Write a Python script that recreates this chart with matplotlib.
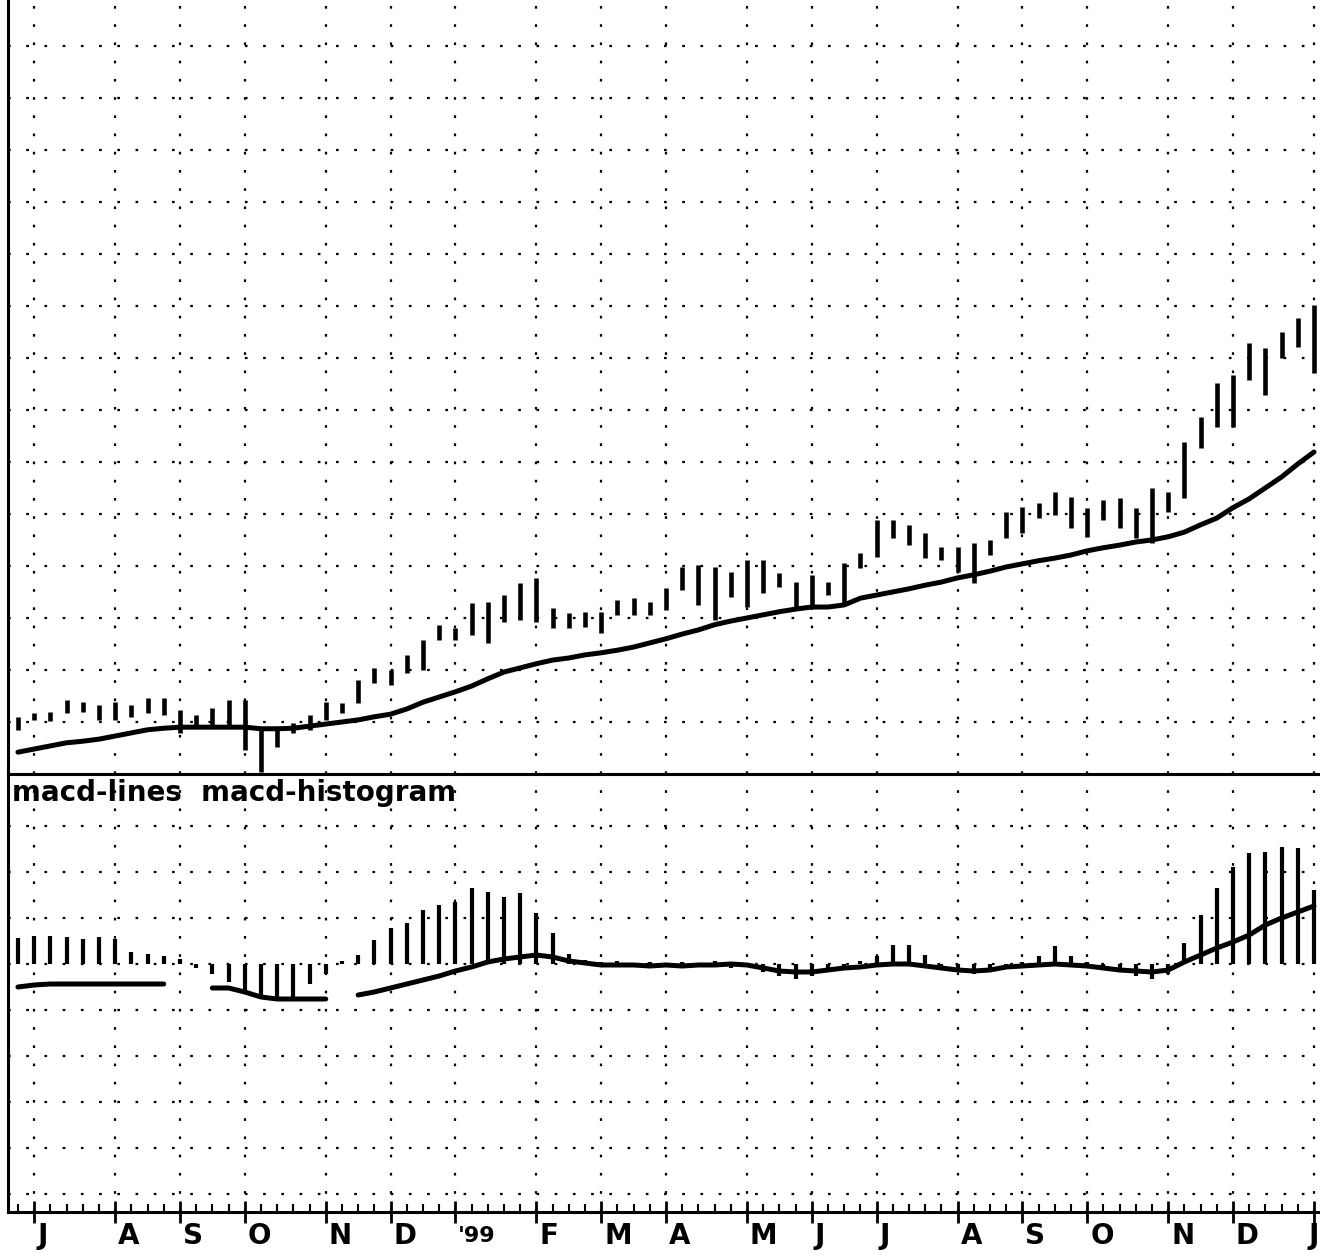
import matplotlib
matplotlib.use('Agg')
import matplotlib.pyplot as plt
import matplotlib.transforms as mtransforms
import numpy as np
import pandas as pd

# weekly bars, late June 1998 to early January 2000
weeks = pd.date_range('1998-06-26', periods=81, freq='7D')

price_high = [11.0, 11.7, 11.9, 14.2, 13.8, 13.3, 13.8, 13.3, 14.6, 14.6,
              12.3, 11.3, 12.7, 14.2, 14.2, 9.0, 9.0, 9.8, 11.3, 13.8,
              13.7, 18.1, 20.4, 20.0, 22.9, 25.8, 28.7, 28.1, 32.9, 33.1,
              34.4, 36.7, 37.7, 31.9, 31.0, 31.2, 31.2, 33.5, 33.8, 33.1,
              35.8, 39.8, 40.2, 39.8, 38.8, 41.2, 41.2, 38.7, 36.9, 38.3,
              36.9, 40.6, 42.5, 48.8, 48.8, 47.9, 46.3, 43.7, 43.7, 44.4,
              45.0, 50.4, 51.3, 52.1, 54.2, 53.3, 51.2, 52.7, 53.1, 51.2,
              55.0, 54.2, 63.8, 68.7, 75.2, 76.7, 82.9, 81.9, 85.0, 87.7,
              90.2]
price_low = [8.5, 10.4, 10.2, 11.7, 11.9, 10.4, 10.4, 11.0, 11.7, 11.3,
             7.9, 8.8, 9.0, 9.0, 4.6, 0.4, 5.2, 7.9, 8.5, 10.4,
             11.7, 13.7, 17.5, 17.1, 19.4, 20.0, 25.8, 25.8, 26.7, 25.2,
             29.2, 29.6, 29.2, 28.1, 28.1, 28.3, 27.1, 30.6, 30.6, 30.6,
             31.5, 35.4, 32.5, 29.6, 34.0, 32.1, 34.8, 36.0, 31.9, 32.5,
             34.4, 32.5, 39.6, 41.7, 45.4, 44.0, 41.5, 41.2, 38.8, 36.7,
             42.1, 45.4, 46.3, 49.2, 49.8, 47.3, 45.6, 48.8, 47.3, 45.4,
             44.4, 50.4, 53.1, 62.7, 66.7, 66.7, 75.8, 72.9, 80.0, 82.1,
             77.1]
moving_avg = [4.2, 4.8, 5.4, 6.0, 6.3, 6.7, 7.3, 7.9, 8.5, 8.8,
              9.0, 9.0, 9.0, 9.0, 9.0, 8.7, 8.7, 8.8, 9.2, 9.6,
              10.0, 10.4, 11.0, 11.5, 12.5, 13.8, 14.8, 15.8, 16.9, 18.3,
              19.6, 20.4, 21.2, 21.9, 22.3, 22.9, 23.3, 23.8, 24.4, 25.2,
              26.0, 26.9, 27.7, 28.7, 29.4, 30.0, 30.6, 31.2, 31.7, 32.1,
              32.1, 32.5, 33.8, 34.4, 35.0, 35.6, 36.3, 36.9, 37.7, 38.3,
              39.0, 39.8, 40.4, 41.0, 41.5, 42.1, 42.9, 43.5, 44.0, 44.6,
              45.0, 45.6, 46.5, 47.9, 49.2, 51.2, 52.9, 55.0, 57.1, 59.6,
              61.9]

nan = np.nan
macd_line = [-0.23, -0.21, -0.20, -0.20, -0.20, -0.20, -0.20, -0.20, -0.20, -0.20,
             nan, nan, -0.24, -0.24, -0.28, -0.33, -0.35, -0.35, -0.35, -0.35,
             nan, -0.31, -0.28, -0.24, -0.20, -0.16, -0.12, -0.07, -0.03, 0.02,
             0.05, 0.07, 0.09, 0.07, 0.03, 0.01, -0.01, -0.01, -0.01, -0.02,
             -0.01, -0.02, -0.01, -0.01, 0.00, -0.01, -0.04, -0.07, -0.08, -0.08,
             -0.06, -0.04, -0.03, -0.01, 0.00, 0.00, -0.02, -0.04, -0.06, -0.07,
             -0.06, -0.03, -0.02, -0.01, 0.00, -0.01, -0.02, -0.04, -0.06, -0.07,
             -0.08, -0.06, 0.02, 0.09, 0.16, 0.22, 0.29, 0.39, 0.46, 0.52,
             0.58]
macd_hist = [0.26, 0.28, 0.28, 0.27, 0.25, 0.27, 0.25, 0.12, 0.10, 0.08,
             0.05, -0.04, -0.10, -0.18, -0.26, -0.32, -0.35, -0.34, -0.20, -0.10,
             0.03, 0.09, 0.24, 0.36, 0.41, 0.54, 0.59, 0.62, 0.76, 0.72,
             0.67, 0.71, 0.51, 0.31, 0.10, 0.04, 0.02, 0.03, -0.02, 0.02,
             -0.03, 0.02, -0.02, 0.03, -0.04, -0.03, -0.08, -0.12, -0.15, -0.12,
             -0.08, -0.05, 0.03, 0.08, 0.19, 0.19, 0.09, -0.05, -0.08, -0.10,
             -0.06, -0.03, 0.02, 0.08, 0.18, 0.08, 0.02, -0.03, -0.08, -0.12,
             -0.15, -0.10, 0.21, 0.49, 0.76, 0.97, 1.11, 1.12, 1.17, 1.16,
             0.74]

month_labels = ['J', 'A', 'S', 'O', 'N', 'D', "'99", 'F', 'M', 'A', 'M', 'J',
                'J', 'A', 'S', 'O', 'N', 'D', 'J']

# first bar of every month (July 1998 onwards) -> month ticks and vertical grid
wk = weeks.to_series()
month_starts = wk.groupby(weeks.to_period('M')).first().iloc[1:]

fig = plt.figure(figsize=(13.2, 12.6), dpi=100)
ax1 = fig.add_axes([8 / 1320, 1 - 774 / 1260, 1312 / 1320, 774 / 1260])
ax2 = fig.add_axes([8 / 1320, 1 - 1212 / 1260, 1312 / 1320, 438 / 1260], sharex=ax1)

dot = (0, (1.2, 7))

# price panel
for y in np.arange(10, 150, 10):
    ax1.axhline(y, color='k', lw=1.6, ls=dot, zorder=1)
for d in month_starts:
    ax1.axvline(d, color='k', lw=1.6, ls=dot, zorder=1)
ax1.vlines(weeks, price_low, price_high, color='k', lw=3.3, zorder=3)
ax1.plot(weeks, moving_avg, color='k', lw=3.6, solid_capstyle='round', zorder=4)
ax1.set_ylim(0, 148.8)

# macd panel
for y in np.arange(-5, 4) * 0.46:
    ax2.axhline(y, color='k', lw=1.6, ls=dot, zorder=1)
for d in month_starts:
    ax2.axvline(d, color='k', lw=1.6, ls=dot, zorder=1)
ax2.vlines(weeks, 0, macd_hist, color='k', lw=3.0, zorder=3)
ax2.plot(weeks, macd_line, color='k', lw=3.6, solid_capstyle='round', zorder=4)
ax2.set_ylim(-2.48, 1.90)
ax2.text(0.003, 0.988, 'macd-lines  macd-histogram', transform=ax2.transAxes,
         va='top', ha='left', fontsize=20, fontweight='bold', color='k')

ax1.set_xlim(weeks[0] - pd.Timedelta(days=4.3), weeks[-1] + pd.Timedelta(days=2.6))

for ax in (ax1, ax2):
    ax.spines['top'].set_visible(False)
    ax.spines['right'].set_visible(False)
    ax.spines['left'].set_linewidth(2.2)
    ax.spines['bottom'].set_linewidth(2.2)
    ax.set_yticks([])
    ax.patch.set_alpha(0)

ax1.tick_params(axis='x', which='both', bottom=False, labelbottom=False)
ax2.set_xticks(list(month_starts))
ax2.set_xticks(list(weeks), minor=True)
ax2.tick_params(axis='x', which='major', direction='inout', length=16, width=2,
                labelbottom=False)
ax2.tick_params(axis='x', which='minor', direction='in', length=6, width=1.5)

lab_tr = mtransforms.offset_copy(ax2.get_xaxis_transform(), fig=fig, x=3, y=-24,
                                 units='dots')
last_tr = mtransforms.offset_copy(ax2.get_xaxis_transform(), fig=fig, x=5, y=-24,
                                  units='dots')
n_lab = len(month_labels)
for k, (d, lab) in enumerate(zip(month_starts, month_labels)):
    is_last = k == n_lab - 1
    ax2.text(d, 0, lab, transform=last_tr if is_last else lab_tr,
             ha='right' if is_last else 'left', va='center',
             fontsize=16 if lab.startswith("'") else 20, fontweight='bold',
             family=['Liberation Sans Narrow', 'DejaVu Sans'], clip_on=False)

fig.savefig('out.png', dpi=100)
